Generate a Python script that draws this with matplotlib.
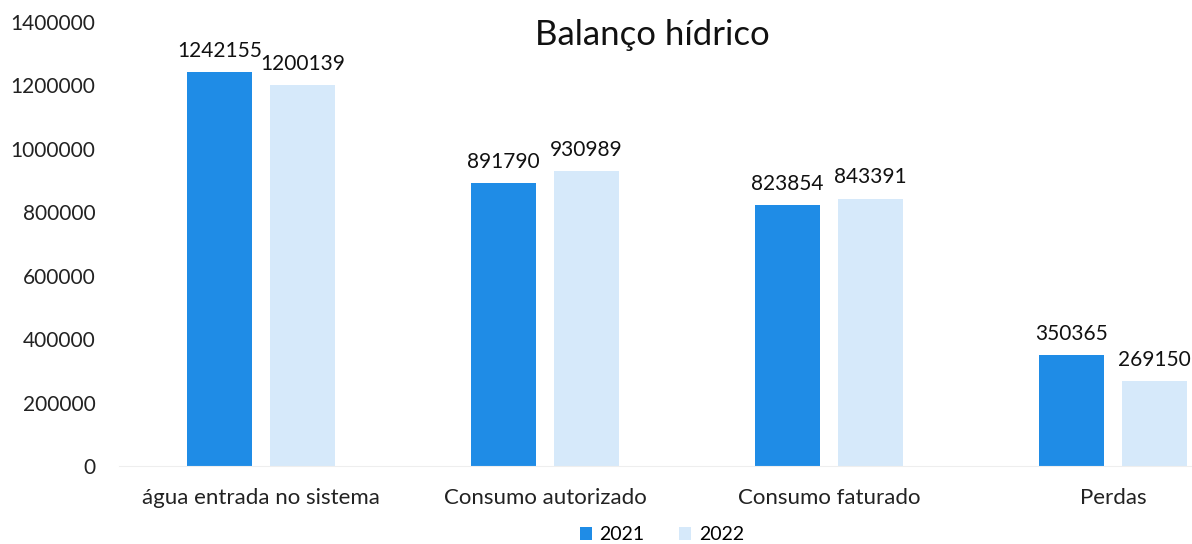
import matplotlib
matplotlib.use("Agg")
import matplotlib.pyplot as plt
import numpy as np

categories = ["água entrada no sistema", "Consumo autorizado", "Consumo faturado", "Perdas"]
years = ["2021", "2022"]
v2021 = [1242155, 891790, 823854, 350365]
v2022 = [1200139, 930989, 843391, 269150]

C21 = "#1f8ce6"
C22 = "#d6e9fa"

plt.rcParams["font.family"] = ["Lato", "DejaVu Sans"]

fig = plt.figure(figsize=(11.92, 5.44), dpi=100)
ax = fig.add_axes([119 / 1192, 78 / 544, 1136 / 1192, 444 / 544])

x = np.arange(len(categories))
w = 0.23
off = 0.146
b1 = ax.bar(x - off, v2021, w, color=C21, label=years[0])
b2 = ax.bar(x + off, v2022, w, color=C22, label=years[1])

for bars, vals in ((b1, v2021), (b2, v2022)):
    for r, v in zip(bars, vals):
        ax.annotate(f"{v}", (r.get_x() + r.get_width() / 2, v), xytext=(0, 8),
                    textcoords="offset points", ha="center", va="bottom",
                    fontsize=15, color="#111")

ax.set_xlim(-0.5, len(categories) - 0.5)
ax.set_ylim(0, 1400000)
ax.set_yticks(np.arange(0, 1400001, 200000))
ax.set_yticklabels([f"{t}" for t in range(0, 1400001, 200000)])
ax.set_xticks(x)
ax.set_xticklabels(categories)
ax.tick_params(axis="y", length=0, pad=17, labelsize=15, colors="#222")
ax.tick_params(axis="x", length=0, pad=16, labelsize=16, colors="#222")
for s in ("top", "right", "left"):
    ax.spines[s].set_visible(False)
ax.spines["bottom"].set_color("#eeeeee")

fig.text(652 / 1192, 1 - 35 / 544, "Balanço hídrico", ha="center", va="center",
         fontsize=25, color="#111")

fig.legend(handles=[b1, b2], labels=years, loc="center", bbox_to_anchor=(662 / 1192, 1 - 535 / 544),
           ncol=2, frameon=False, fontsize=14, handlelength=0.6, handleheight=0.6,
           columnspacing=1.8, handletextpad=0.4)

fig.savefig("out.png", dpi=100)
